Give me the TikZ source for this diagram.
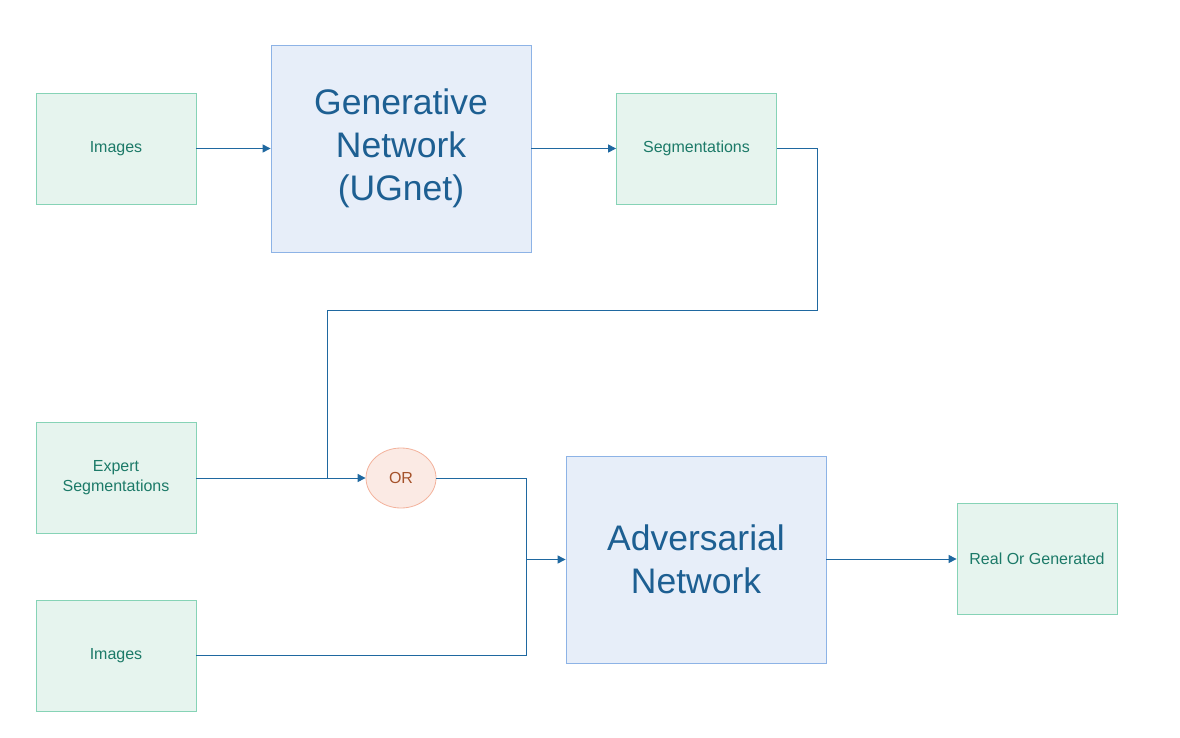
\documentclass[tikz,border=0pt]{standalone}
\usepackage{fontspec}
\setmainfont{Liberation Sans}
\usetikzlibrary{shapes.geometric,arrows.meta}
\definecolor{gfill}{HTML}{E6F4EE}
\definecolor{gdraw}{HTML}{86D3B6}
\definecolor{gtext}{HTML}{1C7A68}
\definecolor{bfill}{HTML}{E7EEF9}
\definecolor{bdraw}{HTML}{8DB3E6}
\definecolor{btext}{HTML}{1D5F92}
\definecolor{lcol}{HTML}{1F68A0}
\definecolor{ofill}{HTML}{FBEAE4}
\definecolor{odraw}{HTML}{F3B29C}
\definecolor{otext}{HTML}{A5522A}
\tikzset{
  gbox/.style={draw=gdraw,fill=gfill,line width=0.8pt,text=gtext,minimum width=160pt,minimum height=111pt,inner sep=0pt,align=center,font=\fontsize{16}{20}\selectfont},
  bbox/.style={draw=bdraw,fill=bfill,line width=0.8pt,text=btext,minimum width=260pt,minimum height=207pt,inner sep=0pt,align=center,font=\fontsize{35.5}{43}\selectfont},
  orell/.style={ellipse,draw=odraw,fill=ofill,line width=0.8pt,text=otext,minimum width=70pt,minimum height=60pt,inner sep=0pt,font=\fontsize{16}{19}\selectfont},
  conn/.style={draw=lcol,line width=1pt,-{Triangle[length=8pt,width=8pt]}},
  plain/.style={draw=lcol,line width=1pt}
}
\begin{document}
\begin{tikzpicture}[x=1pt,y=-1pt]
\useasboundingbox (0,0) rectangle (1180,738);
\node[gbox] (img1) at (116,148.5) {Images};
\node[bbox] (gen) at (401,148.5) {Generative\\Network\\(UGnet)};
\node[gbox] (seg) at (696.5,148.5) {Segmentations};
\node[gbox] (exp) at (116,477.5) {Expert\\Segmentations};
\node[gbox] (img2) at (116,655.5) {Images};
\node[orell] (or) at (401,478) {OR};
\node[bbox] (adv) at (696,559.5) {Adversarial\\Network};
\node[gbox] (real) at (1037,559) {Real Or Generated};
\coordinate (c1) at (817,148.5);
\coordinate (c2) at (817,310);
\coordinate (c3) at (327,310);
\coordinate (j1) at (327,478);
\coordinate (m) at (526,559.5);
\draw[conn] (img1.east |- gen) -- (gen.west);
\draw[conn] (gen.east) -- (seg.west);
\draw[plain] (seg.east) -- (c1) -- (c2) -- (c3) -- (j1);
\draw[conn] (exp.east |- or) -- (or.west);
\draw[plain] (or.east) -| (m);
\draw[plain] (img2.east) -| (m);
\draw[conn] (m) -- (adv.west);
\draw[conn] (adv.east |- real) -- (real.west);
\end{tikzpicture}
\end{document}
